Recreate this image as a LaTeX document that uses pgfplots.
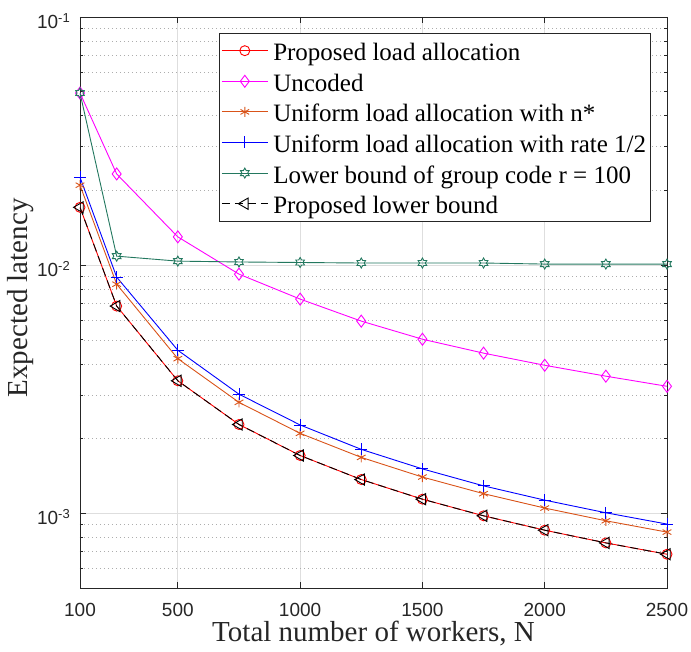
\documentclass[border=0pt]{standalone}
\usepackage{fontspec}
\setmainfont{Liberation Serif}
\newfontfamily\tickfont{Liberation Sans}
\usepackage{pgfplots}
\pgfplotsset{compat=1.18}

\definecolor{mOrange}{rgb}{0.85,0.325,0.098}
\definecolor{mGreen}{RGB}{35,120,95}
\definecolor{mMagenta}{rgb}{1,0,1}
\definecolor{mRed}{rgb}{1,0,0}
\definecolor{mBlue}{rgb}{0,0,1}
\definecolor{axgray}{gray}{0.15}

\newcommand{\dec}[1]{10\raisebox{6pt}{\fontsize{13}{13}\selectfont -#1}}

% six-pointed star (MATLAB hexagram)
\pgfdeclareplotmark{hexagram}{%
  \pgfpathmoveto{\pgfpointpolar{90}{\pgfplotmarksize}}%
  \pgfpathlineto{\pgfpointpolar{120}{0.577\pgfplotmarksize}}%
  \pgfpathlineto{\pgfpointpolar{150}{\pgfplotmarksize}}%
  \pgfpathlineto{\pgfpointpolar{180}{0.577\pgfplotmarksize}}%
  \pgfpathlineto{\pgfpointpolar{210}{\pgfplotmarksize}}%
  \pgfpathlineto{\pgfpointpolar{240}{0.577\pgfplotmarksize}}%
  \pgfpathlineto{\pgfpointpolar{270}{\pgfplotmarksize}}%
  \pgfpathlineto{\pgfpointpolar{300}{0.577\pgfplotmarksize}}%
  \pgfpathlineto{\pgfpointpolar{330}{\pgfplotmarksize}}%
  \pgfpathlineto{\pgfpointpolar{0}{0.577\pgfplotmarksize}}%
  \pgfpathlineto{\pgfpointpolar{30}{\pgfplotmarksize}}%
  \pgfpathlineto{\pgfpointpolar{60}{0.577\pgfplotmarksize}}%
  \pgfpathclose
  \pgfusepathqstroke}

\begin{document}
\begin{tikzpicture}
\begin{axis}[
    name=ax,
    scale only axis,
    width=587pt, height=571pt,
    ymode=log,
    xmin=100, xmax=2500,
    ymin=5e-4, ymax=0.1,
    xtick={100,500,1000,1500,2000,2500},
    ytick={1e-3,1e-2,1e-1},
    yticklabels={\dec{3},\dec{2},\dec{1}},
    minor ytick={6e-4,7e-4,8e-4,9e-4,2e-3,3e-3,4e-3,5e-3,6e-3,7e-3,8e-3,9e-3,2e-2,3e-2,4e-2,5e-2,6e-2,7e-2,8e-2,9e-2},
    minor x tick num=0,
    xmajorgrids, ymajorgrids, yminorgrids,
    major grid style={color=black!13, line width=0.8pt},
    minor grid style={color=black!32, dash pattern=on 0.7pt off 3.3pt, line width=0.6pt},
    tick align=inside,
    major tick length=6pt, minor tick length=3.5pt,
    axis line style={color=axgray, line width=0.8pt},
    every tick/.style={color=axgray, line width=0.8pt},
    /pgf/number format/assume math mode=true,
    /pgf/number format/1000 sep={},
    ticklabel style={font=\tickfont\fontsize{19}{19}\selectfont, color=axgray},
    xticklabel style={inner sep=0pt, yshift=-15pt},
    yticklabel style={inner sep=0pt, xshift=-10pt, yshift=-4pt},
    xlabel={Total number of workers, N},
    ylabel={Expected latency},
    label style={font=\fontsize{29}{29}\selectfont, color=axgray, inner sep=0pt},
    xlabel style={at={(axis description cs:0.5,0)}, anchor=base, yshift=-53pt},
    ylabel style={at={(axis description cs:-0.0886,0.508)}, anchor=base},
    legend style={at={(0.9727,0.972)}, anchor=north east,
        font=\fontsize{25}{25}\selectfont, draw=axgray, line width=0.8pt,
        inner sep=2pt,
        nodes={inner xsep=2.5pt, inner ysep=3.3pt, text height=22pt, text depth=2pt, anchor=west},
        /tikz/every odd column/.append style={column sep=2.5pt}},
    legend cell align=left,
    legend image code/.code={%
        \draw[mark repeat=2, mark phase=2] plot coordinates {(0pt,0pt) (23pt,0pt) (46pt,0pt)};},
    every axis plot/.append style={line width=0.9pt},
]
\addplot[color=mRed, mark=o, mark size=5pt] coordinates {
    (100,0.0171)(250,0.00684)(500,0.00342)(750,0.00228)(1000,0.00171)(1250,0.001368)
    (1500,0.00114)(1750,0.000977)(2000,0.000855)(2250,0.00076)(2500,0.000684)};
\addlegendentry{Proposed load allocation}
\addplot[color=mMagenta, mark=diamond, mark size=6pt] coordinates {
    (100,0.0494)(250,0.0233)(500,0.0130)(750,0.0092)(1000,0.0073)(1250,0.00595)
    (1500,0.00503)(1750,0.00442)(2000,0.00395)(2250,0.00357)(2500,0.00325)};
\addlegendentry{Uncoded}
\addplot[color=mOrange, mark=asterisk, mark size=5pt] coordinates {
    (100,0.0210)(250,0.00838)(500,0.0042)(750,0.0028)(1000,0.0021)(1250,0.00168)
    (1500,0.0014)(1750,0.0012)(2000,0.00105)(2250,0.000933)(2500,0.00084)};
\addlegendentry{Uniform load allocation with n*}
\addplot[color=mBlue, mark=+, mark size=6pt] coordinates {
    (100,0.0226)(250,0.00895)(500,0.00454)(750,0.00302)(1000,0.00227)(1250,0.00181)
    (1500,0.00151)(1750,0.00129)(2000,0.00113)(2250,0.001005)(2500,0.000905)};
\addlegendentry{Uniform load allocation with rate 1/2}
\addplot[color=mGreen, mark=hexagram, mark size=5pt] coordinates {
    (100,0.0494)(250,0.01087)(500,0.01038)(750,0.0103)(1000,0.01025)(1250,0.0102)
    (1500,0.0102)(1750,0.0102)(2000,0.0101)(2250,0.0101)(2500,0.0101)};
\addlegendentry{Lower bound of group code r = 100}
\addplot[color=black, dash pattern=on 8pt off 5pt, mark=triangle, mark size=6.5pt,
    mark options={solid, rotate=90}] coordinates {
    (100,0.0171)(250,0.00684)(500,0.00342)(750,0.00228)(1000,0.00171)(1250,0.001368)
    (1500,0.00114)(1750,0.000977)(2000,0.000855)(2250,0.00076)(2500,0.000684)};
\addlegendentry{Proposed lower bound}
\end{axis}
\pgfresetboundingbox
\path ([xshift=-80pt,yshift=-64pt]ax.south west) rectangle ([xshift=24pt,yshift=17pt]ax.north east);
\end{tikzpicture}
\end{document}
